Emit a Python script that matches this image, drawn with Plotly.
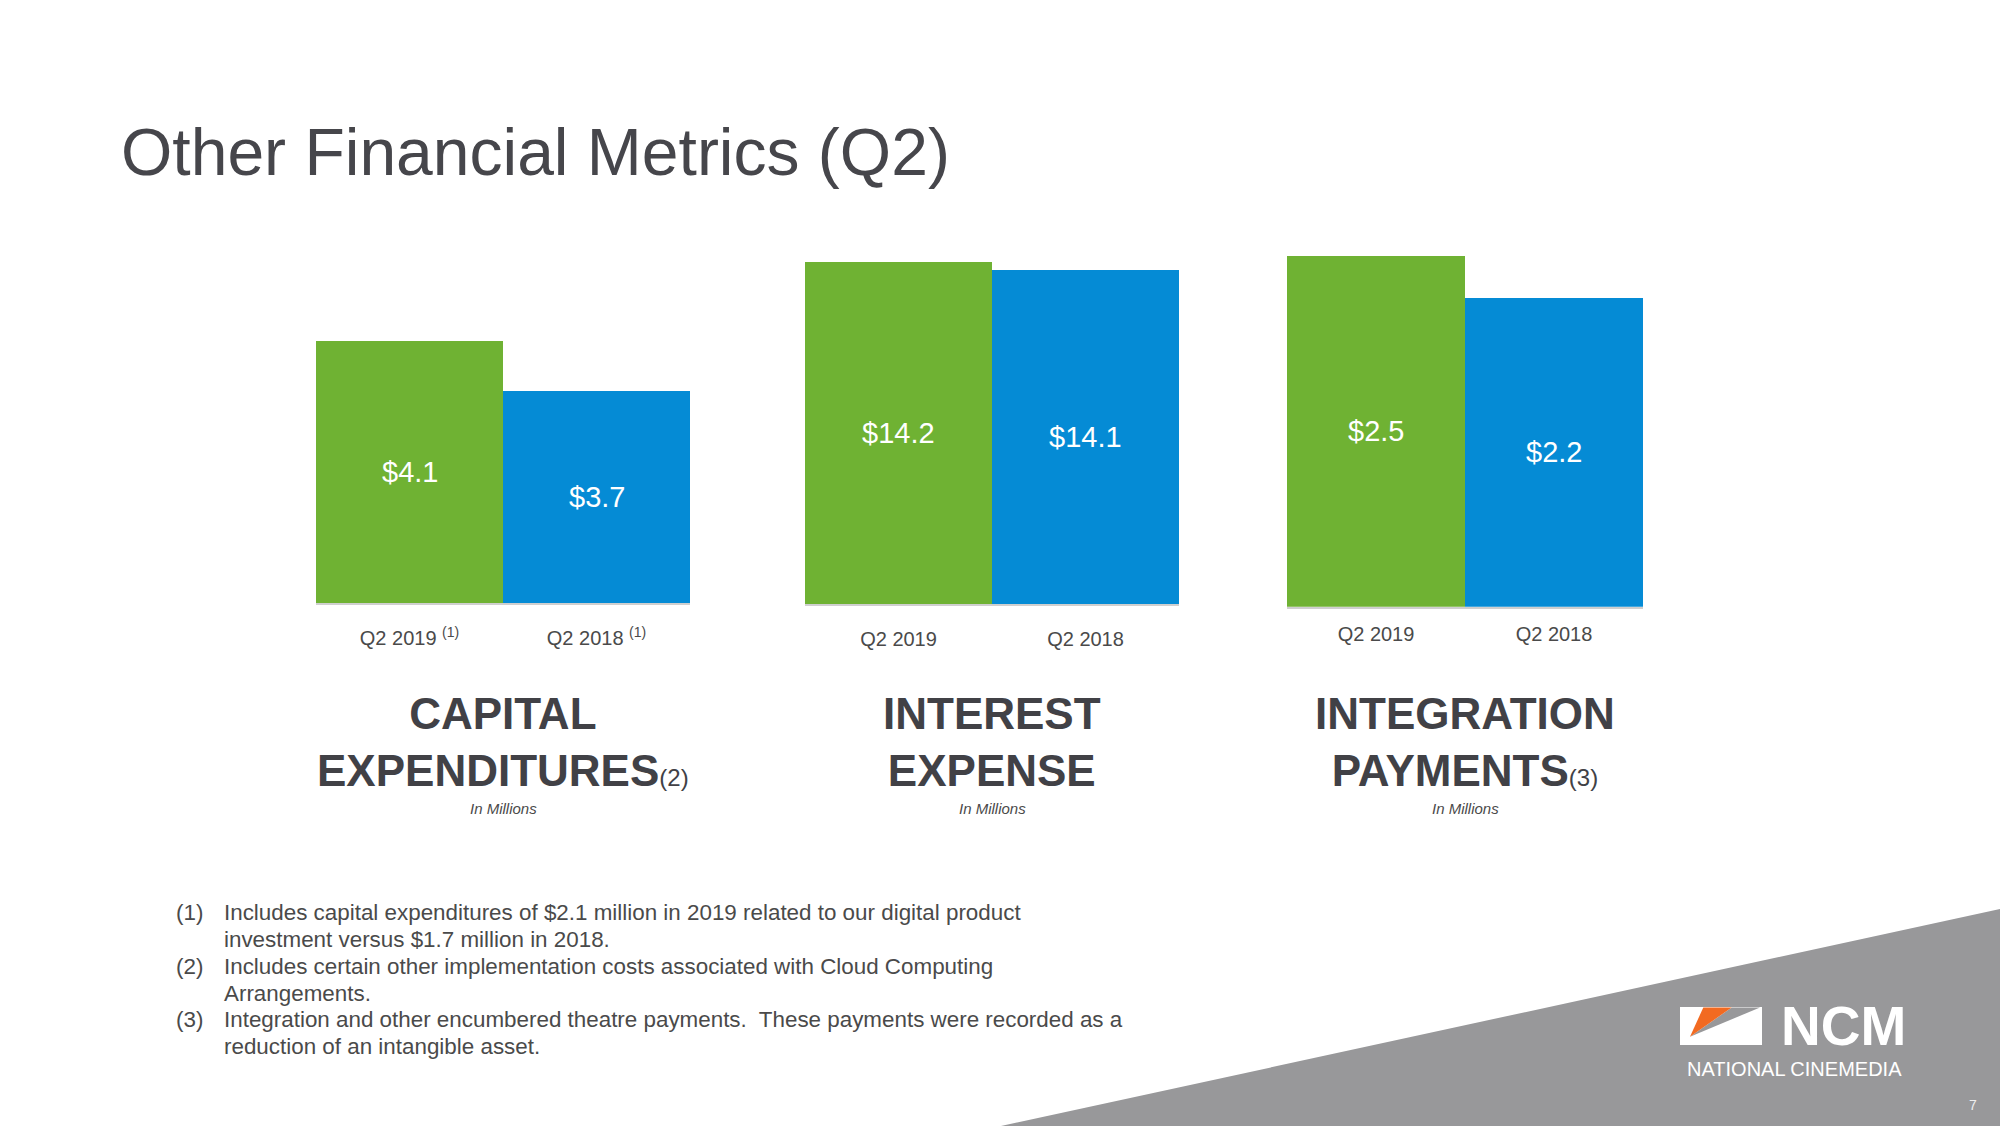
import plotly.graph_objects as go

# ---------------- data ----------------
categories = ["Q2 2019", "Q2 2018"]
capex_values = [4.1, 3.7]
interest_values = [14.2, 14.1]
integration_values = [2.5, 2.2]

capex_ticks = ["Q2 2019 <sup>(1)</sup>", "Q2 2018 <sup>(1)</sup>"]
plain_ticks = ["Q2 2019", "Q2 2018"]

panel_title_top = ["CAPITAL", "INTEREST", "INTEGRATION"]
panel_title_bottom = ["EXPENDITURES", "EXPENSE", "PAYMENTS"]
panel_title_note = ["(2)", "", "(3)"]
unit_label = "In Millions"

footnote_numbers = ["(1)", "(2)", "(3)"]
footnote_lines = [
    ["Includes capital expenditures of $2.1 million in 2019 related to our digital product",
     "investment versus $1.7 million in 2018."],
    ["Includes certain other implementation costs associated with Cloud Computing",
     "Arrangements."],
    ["Integration and other encumbered theatre payments.  These payments were recorded as a",
     "reduction of an intangible asset."],
]

title_text = "Other Financial Metrics (Q2)"

# ---------------- styling ----------------
W, H = 2000, 1126
GREEN = "#6FB233"
BLUE = "#058BD5"
DARK = "#414146"
TEXT = "#4a4a4a"
GREY_BG = "#98989A"
FONT = "Arial, Liberation Sans, sans-serif"


def X(px):
    return px / W


def Y(py):
    return 1 - py / H


# panel geometry (pixels) and axis ranges
panels = [
    dict(values=capex_values, ticks=capex_ticks, x0=316, x1=690, bottom=603,
         ymin=2.0, ymax=5.23, standoff=16),
    dict(values=interest_values, ticks=plain_ticks, x0=805, x1=1179, bottom=604,
         ymin=10.0, ymax=14.965, standoff=16),
    dict(values=integration_values, ticks=plain_ticks, x0=1287, x1=1643, bottom=606.7,
         ymin=0.0, ymax=2.90, standoff=8),
]
TOP_PX = 200

fig = go.Figure()
annotations = []
layout_axes = {}

for i, p in enumerate(panels):
    n = "" if i == 0 else str(i + 1)
    fig.add_trace(go.Bar(
        x=categories, y=p["values"], width=[1, 1],
        marker=dict(color=[GREEN, BLUE], line=dict(width=0)),
        xaxis="x" + n, yaxis="y" + n, hoverinfo="skip", showlegend=False,
    ))
    layout_axes["xaxis" + n] = dict(
        domain=[X(p["x0"]), X(p["x1"])], anchor="y" + n, type="category",
        categoryorder="array", categoryarray=categories, range=[-0.5, 1.5],
        tickvals=categories, ticktext=p["ticks"], ticks="", showgrid=False,
        zeroline=False, showline=True, linecolor="#cfcfcf", linewidth=2,
        tickfont=dict(family=FONT, size=20, color=TEXT),
        ticklabelstandoff=p["standoff"], fixedrange=True,
    )
    layout_axes["yaxis" + n] = dict(
        domain=[Y(p["bottom"]), Y(TOP_PX)], anchor="x" + n,
        range=[p["ymin"], p["ymax"]], visible=False, fixedrange=True,
    )
    # value labels centred in the visible part of each bar
    for c, v in zip(categories, p["values"]):
        annotations.append(dict(
            x=c, y=(v + p["ymin"]) / 2, xref="x" + n, yref="y" + n,
            text="$" + f"{v:.1f}", showarrow=False,
            font=dict(family=FONT, size=29, color="white"),
            xanchor="center", yanchor="middle",
        ))
    cx = (p["x0"] + p["x1"]) / 2
    note = panel_title_note[i]
    bottom_text = panel_title_bottom[i]
    if note:
        bottom_text += "<span style='font-size:24px;font-weight:normal'>" + note + "</span>"
    annotations.append(dict(
        x=X(cx), y=Y(742), xref="paper", yref="paper", showarrow=False,
        text=panel_title_top[i] + "<br>" + bottom_text,
        xanchor="center", yanchor="middle", align="center",
        font=dict(family=FONT, size=44, color=DARK, weight="bold"),
    ))
    annotations.append(dict(
        x=X(cx), y=Y(808.5), xref="paper", yref="paper", showarrow=False,
        text=unit_label, xanchor="center", yanchor="middle",
        font=dict(family=FONT, size=15, color=TEXT, style="italic"),
    ))

# title
annotations.append(dict(
    x=X(119), y=Y(152), xref="paper", yref="paper", showarrow=False,
    text=title_text, xanchor="left", yanchor="middle",
    font=dict(family=FONT, size=66, color="#46464b"),
))

# footnotes
line_y = 912.8
for num, lines in zip(footnote_numbers, footnote_lines):
    annotations.append(dict(
        x=X(174), y=Y(line_y), xref="paper", yref="paper", showarrow=False,
        text=num, xanchor="left", yanchor="middle",
        font=dict(family=FONT, size=22.4, color=TEXT),
    ))
    for ln in lines:
        annotations.append(dict(
            x=X(222), y=Y(line_y), xref="paper", yref="paper", showarrow=False,
            text=ln, xanchor="left", yanchor="middle",
            font=dict(family=FONT, size=22.4, color=TEXT),
        ))
        line_y += 26.8

# logo text and page number
annotations.append(dict(
    x=X(1843), y=Y(1026), xref="paper", yref="paper", showarrow=False,
    text="NCM", xanchor="center", yanchor="middle",
    font=dict(family=FONT, size=55, color="white", weight="bold"),
))
annotations.append(dict(
    x=X(1794), y=Y(1068.5), xref="paper", yref="paper", showarrow=False,
    text="NATIONAL CINEMEDIA", xanchor="center", yanchor="middle",
    font=dict(family=FONT, size=20, color="white"),
))
annotations.append(dict(
    x=X(1973), y=Y(1105), xref="paper", yref="paper", showarrow=False,
    text="7", xanchor="center", yanchor="middle",
    font=dict(family=FONT, size=14, color="#eeeeee"),
))

shapes = [
    # grey triangle bottom right
    dict(type="path", xref="paper", yref="paper", layer="below",
         path=f"M {X(1001)},{Y(1126)} L {X(2000)},{Y(909)} L {X(2000)},{Y(1126)} Z",
         fillcolor=GREY_BG, line=dict(width=0)),
    # logo box
    dict(type="rect", xref="paper", yref="paper",
         x0=X(1680), x1=X(1762), y0=Y(1045), y1=Y(1007),
         fillcolor="white", line=dict(width=0)),
    dict(type="path", xref="paper", yref="paper",
         path=f"M {X(1731.7)},{Y(1007.5)} L {X(1760)},{Y(1007.5)} L {X(1690)},{Y(1036.7)} Z",
         fillcolor=GREY_BG, line=dict(width=0)),
    dict(type="path", xref="paper", yref="paper",
         path=f"M {X(1703.3)},{Y(1007.5)} L {X(1731.7)},{Y(1007.5)} L {X(1690)},{Y(1036.7)} Z",
         fillcolor="#F26A21", line=dict(width=0)),
]

fig.update_layout(
    width=W, height=H, margin=dict(l=0, r=0, t=0, b=0),
    paper_bgcolor="white", plot_bgcolor="rgba(0,0,0,0)",
    showlegend=False, bargap=0, annotations=annotations, shapes=shapes,
    **layout_axes,
)

fig.write_html("out.html", config={"displayModeBar": False},
               post_script="document.body.style.margin='0';document.body.style.overflow='hidden';")
